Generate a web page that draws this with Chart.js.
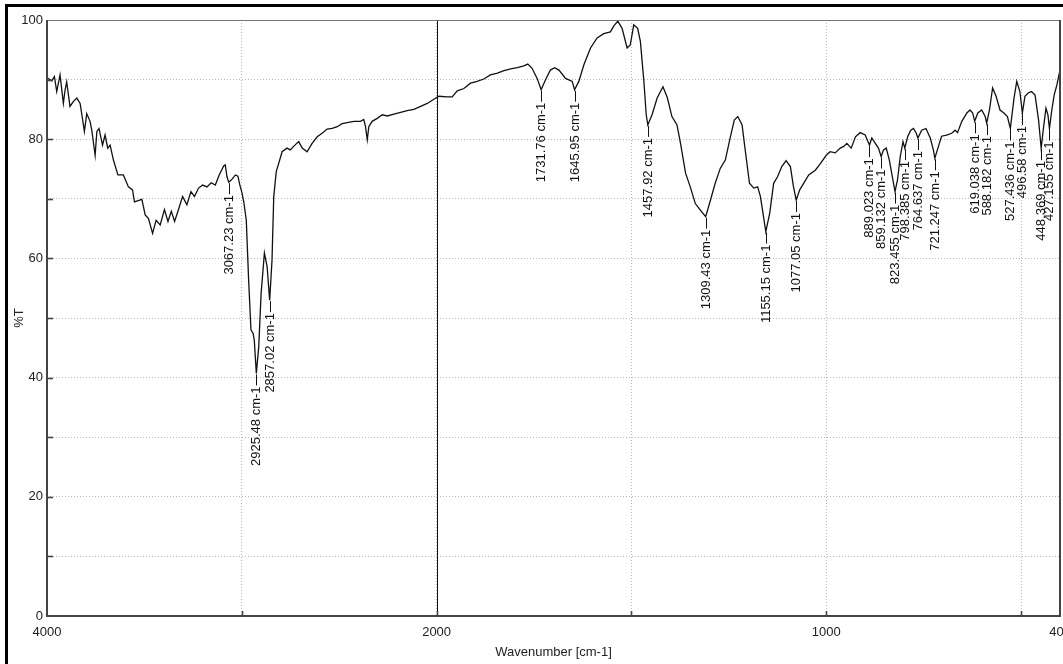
<!DOCTYPE html>
<html>
<head>
<meta charset="utf-8">
<title>IR spectrum</title>
<script src="https://cdn.jsdelivr.net/npm/chart.js@4.4.1/dist/chart.umd.min.js"></script>
<style>
  html, body { margin: 0; padding: 0; background: #fff; }
  #wrap { position: relative; width: 1063px; height: 664px; overflow: hidden; }
  #frame { position: absolute; left: 5px; top: 4px; width: 2000px; height: 2000px;
           border-left: 3px solid #000; border-top: 3px solid #000; }
  #irChart { position: absolute; left: 0; top: 0; }
</style>
</head>
<body>
<div id="wrap">
  <div id="frame"></div>
  <canvas id="irChart" width="1063" height="664"></canvas>
</div>
<script>
// spectrum (wavenumber in cm-1, %T)
const wavenumbers = [
  4000, 3976, 3962, 3950, 3933, 3916, 3907, 3899, 3882, 3865, 3847, 3830, 3808, 3796, 3779, 3770,
  3753, 3744, 3733, 3715, 3702, 3688, 3676, 3659, 3636, 3608, 3582, 3561, 3551, 3513, 3496, 3479,
  3458, 3440, 3419, 3397, 3379, 3362, 3345, 3325, 3304, 3282, 3261, 3243, 3222, 3201, 3179, 3157,
  3136, 3116, 3093, 3085, 3076, 3067.23, 3060, 3050, 3033, 3020, 3010, 2999, 2990, 2977, 2965, 2953,
  2942, 2936, 2925.48, 2913, 2901, 2884, 2870, 2857.02, 2845, 2836, 2823, 2811, 2793, 2768, 2751, 2734,
  2708, 2690, 2665, 2639, 2613, 2588, 2562, 2536, 2510, 2485, 2459, 2425, 2391, 2374, 2365, 2356,
  2348, 2331, 2305, 2279, 2253, 2219, 2185, 2151, 2117, 2082, 2048, 2014, 1994, 1973, 1960, 1947,
  1930, 1913, 1896, 1879, 1862, 1844, 1827, 1810, 1793, 1776, 1766, 1755, 1742, 1731.76, 1721, 1708,
  1697, 1686, 1669, 1652, 1645.95, 1635, 1622, 1605, 1588, 1571, 1554, 1545, 1535, 1524, 1511, 1503,
  1494, 1484, 1477, 1468, 1462, 1457.92, 1447, 1434, 1419, 1408, 1396, 1383, 1374, 1361, 1349, 1336,
  1323, 1309.43, 1297, 1285, 1272, 1259, 1246, 1236, 1227, 1216, 1208, 1197, 1186, 1176, 1169, 1161,
  1155.15, 1145, 1135, 1125, 1114, 1103, 1092, 1084, 1077.05, 1068, 1058, 1045, 1028, 1015, 1000, 990,
  977, 964, 955, 947, 936, 925, 913, 900, 889.023, 883, 874, 866, 859.132, 853, 846, 838,
  829, 823.455, 817, 810, 803, 798.385, 791, 783, 776, 769, 764.637, 755, 744, 733, 725, 721.247,
  712, 704, 691, 678, 669, 663, 652, 639, 631, 624, 619.038, 611, 601, 592, 588.182, 581,
  573, 564, 554, 544, 535, 527.436, 518, 511, 503, 496.58, 490, 481, 473, 464, 455, 448.369,
  442, 436, 431, 427.155, 421, 415, 408, 401, 400
];
const transmittance = [
  90.3, 89.8, 90.5, 88.0, 90.8, 86.0, 88.3, 89.6, 85.5, 86.3, 86.9, 86.0, 81.3, 84.3, 83.0, 81.5,
  77.3, 81.3, 81.8, 79.0, 80.7, 78.5, 79.0, 76.5, 74.0, 74.0, 72.0, 71.5, 69.5, 69.9, 67.3, 66.7,
  64.2, 66.4, 65.6, 68.2, 66.2, 67.9, 66.2, 68.2, 70.4, 69.0, 71.2, 70.4, 71.8, 72.3, 72.0, 72.7,
  72.3, 74.0, 75.5, 75.7, 73.7, 72.8, 73.0, 73.3, 74.0, 73.8, 72.3, 71.0, 69.5, 66.4, 56.4, 48.0,
  47.4, 46.3, 40.7, 45.2, 54.1, 60.9, 58.6, 53.0, 59.7, 70.4, 74.6, 75.9, 77.9, 78.5, 78.2, 78.8,
  79.6, 78.5, 77.9, 79.3, 80.4, 81.0, 81.7, 81.8, 82.1, 82.6, 82.8, 83.0, 83.0, 83.3, 82.1, 79.9,
  82.1, 83.0, 83.5, 84.1, 83.9, 84.2, 84.5, 84.8, 85.0, 85.5, 86.0, 86.7, 87.2, 87.1, 87.1, 88.1,
  88.5, 89.4, 89.7, 90.1, 90.8, 91.1, 91.5, 91.8, 92.0, 92.3, 92.6, 91.9, 90.2, 88.3, 89.9, 91.6,
  92.0, 91.6, 90.2, 89.7, 88.3, 89.7, 92.5, 95.3, 97.0, 97.7, 98.0, 99.0, 99.8, 98.6, 95.3, 95.8,
  99.2, 98.6, 96.4, 89.7, 84.1, 82.4, 84.1, 86.9, 88.8, 87.0, 83.8, 82.4, 79.3, 74.3, 72.0, 69.2,
  68.1, 67.0, 69.8, 72.6, 75.1, 76.5, 80.4, 83.2, 83.8, 82.4, 78.2, 72.6, 71.8, 72.0, 70.4, 67.0,
  64.5, 67.6, 72.6, 73.7, 75.4, 76.4, 75.4, 72.0, 69.8, 71.5, 72.6, 74.0, 74.8, 75.9, 77.3, 77.9,
  77.7, 78.5, 78.8, 79.3, 78.5, 80.4, 81.1, 80.7, 79.0, 80.2, 79.3, 78.5, 77.1, 78.2, 78.5, 76.5,
  73.2, 71.2, 73.2, 77.1, 79.6, 78.5, 80.4, 81.5, 81.8, 81.0, 80.2, 81.5, 81.8, 80.2, 78.2, 76.8,
  78.8, 80.5, 80.7, 81.0, 81.5, 81.1, 83.0, 84.4, 84.9, 84.4, 83.0, 84.4, 84.9, 83.8, 82.7, 84.9,
  88.6, 87.2, 84.9, 84.4, 83.8, 81.8, 86.9, 89.7, 88.0, 84.4, 87.2, 87.8, 88.0, 87.4, 83.2, 78.5,
  82.1, 85.2, 84.1, 81.8, 84.9, 87.4, 89.1, 91.3, 90.8
];

// labelled peaks
const peakWavenumbers = [
  3067.23, 2925.48, 2857.02, 1731.76, 1645.95, 1457.92, 1309.43, 1155.15, 1077.05,
  889.023, 859.132, 823.455, 798.385, 764.637, 721.247, 619.038, 588.182, 527.436,
  496.58, 448.369, 427.155
];
const peakLabels = [
  '3067.23 cm-1', '2925.48 cm-1', '2857.02 cm-1', '1731.76 cm-1', '1645.95 cm-1',
  '1457.92 cm-1', '1309.43 cm-1', '1155.15 cm-1', '1077.05 cm-1', '889.023 cm-1',
  '859.132 cm-1', '823.455 cm-1', '798.385 cm-1', '764.637 cm-1', '721.247 cm-1',
  '619.038 cm-1', '588.182 cm-1', '527.436 cm-1', '496.58 cm-1', '448.369 cm-1',
  '427.155 cm-1'
];

const xTickWavenumbers = [4000, 3000, 2000, 1500, 1000, 500, 400];
const xTickLabels = ['4000', '', '2000', '', '1000', '', '400'];
const yTickStep = 10;
const yLabelStep = 20;

// the axis is compressed 2:1 above 2000 cm-1
const toAxis = (w) => (w > 2000 ? 2000 + (w - 2000) / 2 : w);

const narrowFont = "'Liberation Sans Narrow', 'Liberation Sans', Arial, sans-serif";
const labelFont = "'Liberation Sans', Arial, sans-serif";

const spectrumDecor = {
  id: 'spectrumDecor',
  beforeDatasetsDraw(chart) {
    const { ctx, chartArea: a, scales: { x } } = chart;
    const px = Math.round(x.getPixelForValue(2000)) + 0.5;
    ctx.save();
    ctx.strokeStyle = '#111';
    ctx.lineWidth = 1;
    ctx.beginPath();
    ctx.moveTo(px, a.top);
    ctx.lineTo(px, a.bottom);
    ctx.stroke();
    ctx.restore();
  },
  afterDatasetsDraw(chart) {
    const { ctx, chartArea: a, scales: { x, y } } = chart;
    ctx.save();

    // plot box
    ctx.strokeStyle = '#777';
    ctx.lineWidth = 1;
    ctx.strokeRect(a.left + 0.5, a.top + 0.5, a.right - a.left - 1, a.bottom - a.top);
    ctx.strokeStyle = '#444';
    ctx.lineWidth = 2;
    ctx.beginPath();
    ctx.moveTo(a.left, a.top);
    ctx.lineTo(a.left, a.bottom);
    ctx.lineTo(a.right, a.bottom);
    ctx.lineTo(a.right, a.top);
    ctx.stroke();

    // inward tick marks
    ctx.lineWidth = 1.6;
    for (let v = yTickStep; v < 100; v += yTickStep) {
      const py = Math.round(y.getPixelForValue(v)) + 0.5;
      ctx.beginPath();
      ctx.moveTo(a.left, py);
      ctx.lineTo(a.left + 6, py);
      ctx.stroke();
    }
    xTickWavenumbers.slice(1, -1).forEach((w) => {
      const px = Math.round(x.getPixelForValue(toAxis(w))) + 0.5;
      ctx.beginPath();
      ctx.moveTo(px, a.bottom);
      ctx.lineTo(px, a.bottom - 5);
      ctx.stroke();
    });

    // peak labels
    ctx.fillStyle = '#111';
    ctx.strokeStyle = '#111';
    ctx.lineWidth = 1;
    ctx.font = '13px ' + labelFont;
    peakWavenumbers.forEach((w, i) => {
      const idx = wavenumbers.indexOf(w);
      const px = Math.round(x.getPixelForValue(toAxis(w))) + 0.5;
      const py = y.getPixelForValue(transmittance[idx]);
      ctx.beginPath();
      ctx.moveTo(px, py + 1);
      ctx.lineTo(px, py + 12);
      ctx.stroke();
      ctx.save();
      ctx.translate(px, py + 13);
      ctx.rotate(-Math.PI / 2);
      ctx.textAlign = 'right';
      ctx.textBaseline = 'middle';
      ctx.fillText(peakLabels[i], 0, 0);
      ctx.restore();
    });
    ctx.restore();
  }
};

const initSpectrum = () => {
  const canvas = document.getElementById('irChart');
  if (!canvas || typeof window.Chart === 'undefined') {
    return;
  }

  new Chart(canvas, {
    type: 'line',
    data: {
      datasets: [
        {
          data: wavenumbers.map((w, i) => ({ x: toAxis(w), y: transmittance[i] })),
          borderColor: '#111',
          borderWidth: 1.3,
          pointRadius: 0,
          tension: 0,
          fill: false
        }
      ]
    },
    options: {
      responsive: false,
      animation: false,
      layout: { padding: { top: 20, right: 3, bottom: 0, left: 0 } },
      scales: {
        x: {
          type: 'linear',
          reverse: true,
          min: toAxis(400),
          max: toAxis(4000),
          afterBuildTicks: (scale) => {
            scale.ticks = xTickWavenumbers.map((w) => ({ value: toAxis(w) }));
          },
          afterFit: (scale) => {
            scale.height = 48;
            scale.paddingLeft = 0;
            scale.paddingRight = 0;
          },
          grid: { color: '#b8b8b8', lineWidth: 1, drawTicks: false },
          border: { display: false, dash: [1, 2] },
          ticks: {
            autoSkip: false,
            maxRotation: 0,
            padding: 9,
            color: '#222',
            font: { family: narrowFont, size: 13 },
            callback: (value, index) => xTickLabels[index]
          },
          title: {
            display: true,
            text: 'Wavenumber [cm-1]',
            color: '#222',
            font: { family: narrowFont, size: 13 },
            padding: { top: 0, bottom: 4 }
          }
        },
        y: {
          min: 0,
          max: 100,
          afterFit: (scale) => {
            scale.width = 47;
            scale.paddingTop = 0;
            scale.paddingBottom = 0;
          },
          grid: { color: '#b8b8b8', lineWidth: 1, drawTicks: false },
          border: { display: false, dash: [1, 2] },
          ticks: {
            stepSize: yTickStep,
            padding: 4,
            color: '#222',
            font: { family: narrowFont, size: 13 },
            callback: (value) => (value % yLabelStep === 0 ? value : '')
          },
          title: {
            display: true,
            text: '%T',
            color: '#222',
            font: { family: narrowFont, size: 13 },
            padding: { top: 12, bottom: 0 }
          }
        }
      },
      plugins: {
        legend: { display: false },
        tooltip: { enabled: false }
      }
    },
    plugins: [spectrumDecor]
  });
};

document.addEventListener('DOMContentLoaded', initSpectrum);
</script>
</body>
</html>
